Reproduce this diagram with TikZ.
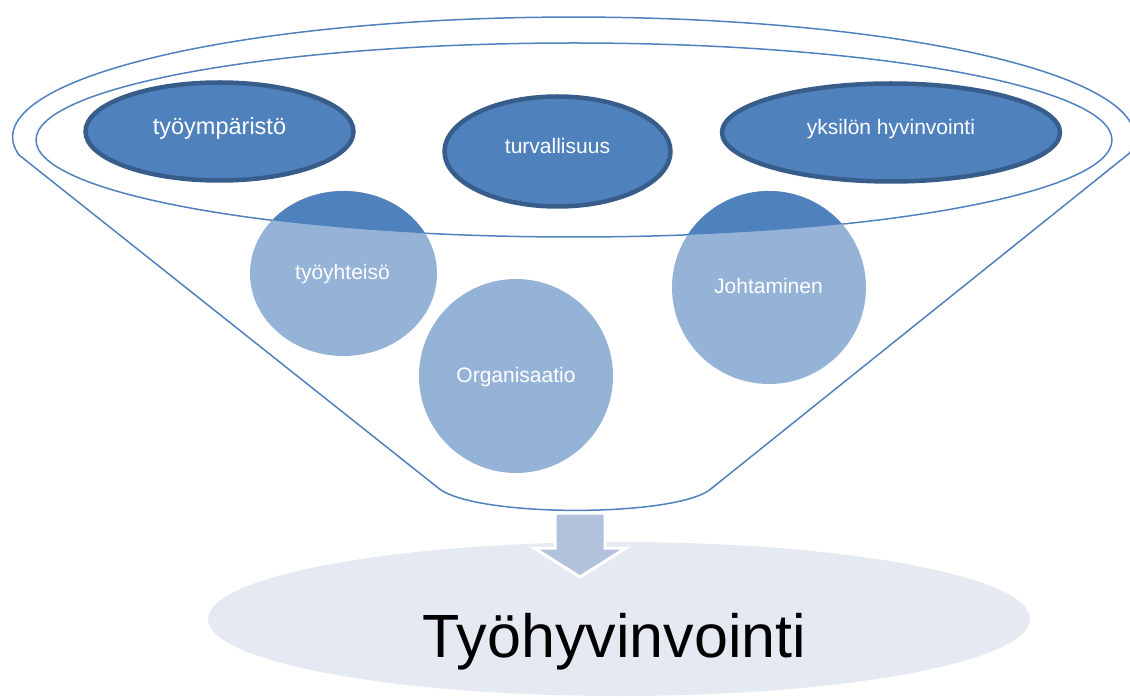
\documentclass[tikz,border=0pt]{standalone}
\usepackage{fontspec}
\setmainfont{Liberation Sans}
\usetikzlibrary{shapes.geometric}
\definecolor{darkfill}{HTML}{4F81BD}
\definecolor{darkborder}{HTML}{385D8A}
\definecolor{lightfill}{HTML}{95B3D7}
\definecolor{arrowfill}{HTML}{B3C2DC}
\definecolor{basefill}{HTML}{E4E9F2}
\tikzset{
  topoval/.style={ellipse, fill=darkfill, draw=darkborder, line width=4.5pt, inner sep=0pt},
  bubble/.style={ellipse, fill=lightfill, inner sep=0pt},
  smalltext/.style={anchor=base, text=white, font=\fontsize{21}{21}\selectfont, inner sep=0pt},
  funnelline/.style={draw=darkfill, line width=1.5pt},
}
\begin{document}
\begin{tikzpicture}[x=1pt,y=1pt]
\useasboundingbox (0,0) rectangle (1130,697);
\clip (0,0) rectangle (1130,697);

% result ellipse
\node[ellipse, fill=basefill, minimum width=822pt, minimum height=154pt, inner sep=0pt] (result) at (619,78) {};

% arrow
\path[fill=arrowfill, draw=white, line width=3pt, line join=miter]
  (555,184) -- (605,184) -- (605,149) -- (626,149) -- (580,120) -- (534,149) -- (555,149) -- cycle;

% funnel outline
\draw[funnelline, line join=round]
  (19,542) arc[start angle=188.6, end angle=-7.66, x radius=561, y radius=120]
  -- (712,209) .. controls (680,179) and (470,179) .. (437,210) -- cycle;
% inner ellipse
\draw[funnelline] (574,557) ellipse [x radius=538, y radius=97];

% bubbles
\node[bubble, minimum width=187pt, minimum height=165pt] (b1) at (343.5,423.5) {};
\node[bubble, minimum width=194pt, minimum height=194pt] (b2) at (516,321) {};
\node[bubble, minimum width=194pt, minimum height=193pt] (b3) at (769,409.5) {};
\begin{scope}
  \clip (574,557) ellipse [x radius=538, y radius=97];
  \fill[darkfill] (343.5,423.5) ellipse [x radius=93.5, y radius=82.5];
  \fill[darkfill] (769,409.5) ellipse [x radius=97, y radius=96.5];
\end{scope}

% top ovals
\node[topoval, minimum width=268pt, minimum height=98pt] (o1) at (219.5,565.5) {};
\node[topoval, minimum width=226pt, minimum height=110pt] (o2) at (557.5,545.5) {};
\node[topoval, minimum width=338pt, minimum height=98pt] (o3) at (891,564.5) {};

% texts
\node[smalltext, font=\fontsize{23.5}{23.5}\selectfont] (t1) at (219.5,562) {työympäristö};
\node[smalltext] (t2) at (557.5,543) {turvallisuus};
\node[smalltext] (t3) at (891,562) {yksilön hyvinvointi};
\node[smalltext] (t4) at (342.5,417) {työyhteisö};
\node[smalltext] (t5) at (516,314.3) {Organisaatio};
\node[smalltext] (t6) at (768.5,403) {Johtaminen};
\node[anchor=base, inner sep=0pt, font=\fontsize{61}{61}\selectfont] (t7) at (614.5,40) {Työhyvinvointi};
\end{tikzpicture}
\end{document}
